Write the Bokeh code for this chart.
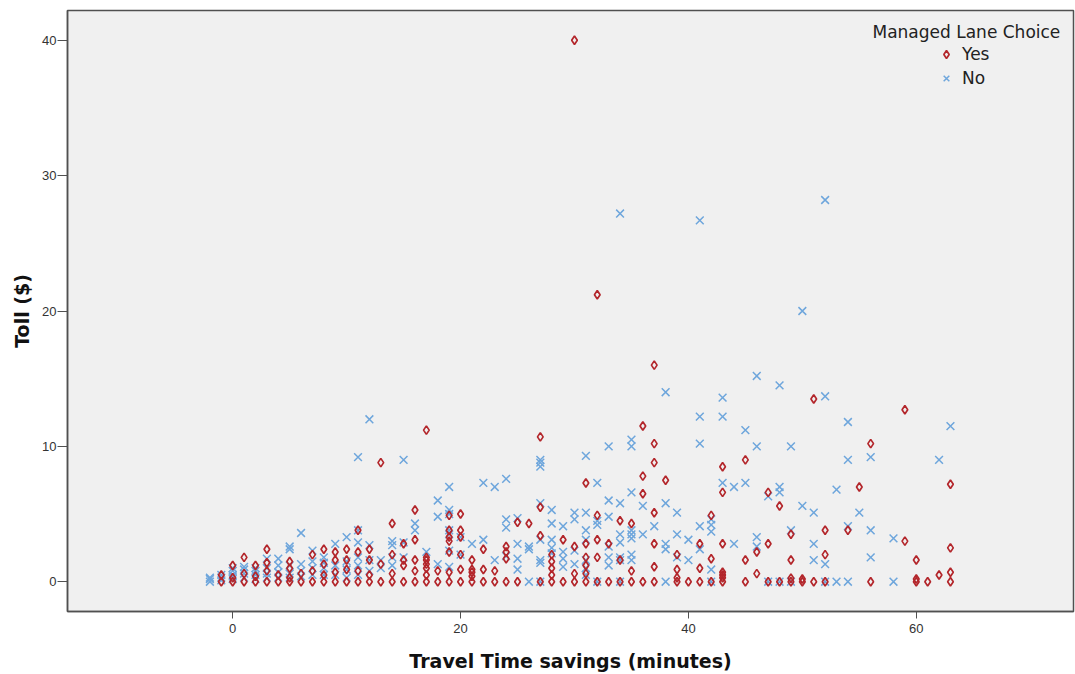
from bokeh.plotting import figure
from bokeh.models import Range1d, Legend, LegendItem, Label, FixedTicker
from bokeh.embed import file_html
from bokeh.resources import INLINE

# ---- data: Managed Lane Choice = Yes (red diamonds) ----
yes_x = [30, 32, 37, 17, 13, 27, 59, 51, 56, 36, 37, 37, 36, 38, 36, 37, 43, 45, 43, 47,
         48, 55, 42, 31, 63, 16, 20, 32, 27,
         -1, -1, 0, 0, 0, 1, 1, 1, 2, 2, 2, 3, 3, 3, 3, 4, 4, 5, 5, 5, 5, 6, 6,
         7, 7, 7, 8, 8, 8, 8, 9, 9, 9, 9, 10, 10, 10, 10, 11, 11, 11, 11,
         12, 12, 12, 12, 13, 13, 14, 14, 14, 14, 15, 15, 15, 15, 16, 16, 16, 16,
         17, 17, 17, 17, 17, 17, 18, 18, 19, 19, 19, 19, 19, 19, 19,
         20, 20, 20, 20, 20, 21, 21, 21, 21, 21, 22, 22, 22, 23, 23,
         24, 24, 24, 24, 25, 25, 26, 27, 27, 28, 28, 28, 28, 28, 29, 29,
         30, 30, 30, 31, 31, 31, 31, 31, 32, 32, 32, 33, 33, 34, 34, 34,
         35, 35, 35, 36, 37, 37, 37, 39, 39, 39, 39, 40, 41, 41, 41, 42, 42,
         43, 43, 43, 43, 43, 45, 45, 46, 46, 47, 47, 48, 49, 49, 49, 49, 50, 50,
         51, 52, 52, 52, 54, 56, 59, 60, 60, 60, 61, 62, 63, 63, 63]
yes_y = [40.0, 21.2, 16.0, 11.2, 8.8, 10.7, 12.7, 13.5, 10.2, 11.5, 10.2, 8.8, 7.8, 7.5, 6.5, 5.1, 8.5, 9.0, 6.6, 6.6,
         5.6, 7.0, 4.9, 7.3, 7.2, 5.3, 5.0, 4.9, 5.5,
         0, 0.5, 0, 0.3, 1.2, 0, 0.6, 1.8, 0, 0.4, 1.2, 0, 0.8, 1.4, 2.4, 0, 0.5, 0, 0.3, 1.0, 1.5, 0, 0.6,
         0, 0.8, 2.0, 0, 0.5, 1.3, 2.4, 0, 0.7, 1.6, 2.2, 0, 0.9, 1.6, 2.4, 0, 0.8, 2.2, 3.8,
         0, 0.5, 1.6, 2.4, 0, 1.3, 0, 0.6, 2.0, 4.3, 0, 1.2, 1.6, 2.8, 0, 0.8, 1.6, 3.1,
         0, 0.5, 1.0, 1.3, 1.6, 1.8, 0, 0.8, 0, 0.7, 2.2, 3.0, 3.3, 3.8, 4.9,
         0, 0.9, 2.0, 3.3, 3.8, 0, 0.4, 0.7, 0.9, 1.6, 0, 0.9, 2.4, 0, 0.8,
         0, 1.7, 2.2, 2.6, 0, 4.4, 4.3, 0, 3.4, 0, 0.5, 1.0, 1.5, 2.0, 0, 3.1,
         0, 0.6, 2.6, 0, 0.6, 1.2, 1.8, 2.8, 0, 1.8, 3.1, 0, 2.8, 0, 1.6, 4.5,
         0, 0.8, 4.3, 0, 0, 1.1, 2.8, 0, 0.3, 0.9, 2.0, 0, 0, 1.0, 2.8, 0, 1.7,
         0, 0.3, 0.5, 0.7, 2.8, 0, 1.6, 0.6, 2.2, 0, 2.8, 0, 0, 0.25, 1.6, 3.5, 0, 0.2,
         0, 0, 2.0, 3.8, 3.8, 0, 3.0, 0, 0.2, 1.6, 0, 0.5, 0, 0.7, 2.5]

# ---- data: Managed Lane Choice = No (blue crosses) ----
no_x = [34, 41, 52, 50, 12, 11, 15, 62, 63, 46, 48, 52, 38, 43, 41, 43, 45, 54, 41, 46,
        49, 33, 35, 35, 54, 56, 43, 44, 45, 48, 48, 47, 53, 35, 33, 34, 36, 38, 39, 50,
        51, 55, 32, 27, 27, 27, 31, 22, 23, 24, 19, 18, 19, 19, 18, 27, 28, 30, 31, 25,
        -2, -2, -2, -1, -1, -1, 0, 0, 0, 0, 0, 1, 1, 1, 1, 2, 2, 2, 2, 3, 3, 3, 3,
        4, 4, 4, 4, 5, 5, 5, 5, 5, 6, 6, 6, 6, 7, 7, 7, 7, 8, 8, 8, 8, 9, 9, 9,
        10, 10, 10, 10, 11, 11, 11, 11, 11, 12, 12, 12, 13, 13, 14, 14, 14, 14, 15, 15,
        16, 16, 17, 18, 19, 19, 19, 19, 20, 20, 21, 22, 23, 24, 24, 24, 25, 25, 25,
        26, 26, 26, 27, 27, 27, 27, 28, 28, 28, 28, 29, 29, 29, 29, 30, 30, 30,
        31, 31, 31, 31, 31, 32, 32, 32, 33, 33, 33, 33, 34, 34, 34, 34, 34,
        35, 35, 35, 35, 35, 36, 37, 38, 38, 38, 39, 39, 40, 40, 41, 41,
        42, 42, 42, 42, 42, 44, 46, 46, 47, 48, 49, 49, 51, 51, 52, 52, 53, 54, 54,
        56, 56, 58, 58]
no_y = [27.2, 26.7, 28.2, 20.0, 12.0, 9.2, 9.0, 9.0, 11.5, 15.2, 14.5, 13.7, 14.0, 13.6, 12.2, 12.2, 11.2, 11.8, 10.2, 10.0,
        10.0, 10.0, 10.5, 10.0, 9.0, 9.2, 7.3, 7.0, 7.3, 7.0, 6.6, 6.3, 6.8, 6.6, 6.0, 5.8, 5.6, 5.8, 5.1, 5.6,
        5.1, 5.1, 7.3, 9.0, 8.8, 8.5, 9.3, 7.3, 7.0, 7.6, 7.0, 6.0, 5.3, 5.0, 4.8, 5.8, 5.3, 5.1, 5.1, 4.7,
        0, 0.2, 0.3, 0.1, 0.3, 0.5, 0.2, 0.4, 0.5, 0.8, 1.0, 0.3, 0.6, 0.9, 1.1, 0.2, 0.5, 0.8, 1.0, 0.3, 0.6, 1.0, 1.7,
        0.3, 0.7, 1.2, 1.7, 0.3, 0.6, 1.2, 2.4, 2.6, 0.4, 0.8, 1.3, 3.6, 0.5, 1.0, 1.5, 2.3, 0.5, 1.0, 1.4, 1.8, 0.5, 1.2, 2.8,
        0.3, 0.9, 1.5, 3.3, 0.5, 1.2, 1.8, 2.9, 3.8, 0.8, 1.6, 2.7, 1.0, 1.6, 1.2, 1.8, 2.7, 3.0, 1.8, 2.9,
        3.8, 4.3, 2.2, 1.3, 1.1, 2.3, 3.5, 3.8, 2.0, 3.3, 2.8, 3.1, 1.6, 1.9, 4.0, 4.6, 0.9, 1.7, 2.8,
        0, 2.4, 2.6, 0, 1.4, 1.6, 3.1, 2.1, 2.5, 3.1, 4.3, 1.1, 1.7, 2.2, 4.1, 1.3, 2.3, 4.6,
        0.5, 1.0, 1.6, 3.1, 3.8, 0, 4.2, 4.5, 1.2, 1.8, 2.6, 4.8, 0, 1.6, 1.8, 2.9, 3.5,
        1.6, 2.0, 3.2, 3.5, 3.8, 3.5, 4.1, 0, 2.4, 2.8, 1.8, 3.5, 1.6, 3.1, 2.4, 4.1,
        0, 0.9, 3.7, 4.2, 4.6, 2.8, 2.6, 3.3, 0, 0, 0, 3.8, 1.6, 2.8, 0, 1.3, 0, 0, 4.1,
        1.8, 3.8, 0, 3.2]

x_ticks = [0, 20, 40, 60]
y_ticks = [0, 10, 20, 30, 40]
x_title = "Travel Time savings (minutes)"
y_title = "Toll ($)"
legend_title = "Managed Lane Choice"
labels = ["Yes", "No"]

RED = "#b3262b"
BLUE = "#6ea6dc"
AX = "#505050"

p = figure(width=1075, height=674, output_backend="svg", toolbar_location=None,
           x_range=Range1d(-14.5, 73.8), y_range=Range1d(-2.2, 42.2),
           min_border_left=67, min_border_right=2, min_border_top=10, min_border_bottom=62)
p.background_fill_color = "#f0f0f0"
p.border_fill_color = "white"
p.outline_line_color = AX
p.outline_line_width = 1.5
p.grid.visible = False

r_no = p.scatter(no_x, no_y, marker="x", size=11, line_color=BLUE, line_width=1.5)
r_yes = p.scatter(yes_x, yes_y, marker="diamond", size=8.5, fill_color=None,
                  line_color=RED, line_width=1.7)

p.xaxis.ticker = FixedTicker(ticks=x_ticks)
p.yaxis.ticker = FixedTicker(ticks=y_ticks)
p.xaxis.axis_label = x_title
p.yaxis.axis_label = y_title
for ax in (p.xaxis, p.yaxis):
    ax.axis_line_color = AX
    ax.axis_line_width = 1.5
    ax.major_tick_line_color = AX
    ax.major_tick_in = 0
    ax.minor_tick_line_color = None
    ax.major_label_text_font = "Liberation Sans"
    ax.major_label_text_font_size = "13px"
    ax.major_label_text_color = "#333333"
    ax.axis_label_text_font = "DejaVu Sans"
    ax.axis_label_text_font_style = "bold"
    ax.axis_label_text_font_size = "19px"
    ax.axis_label_text_color = "#111111"
p.xaxis.major_tick_out = 7
p.xaxis.major_label_standoff = 5
p.xaxis.axis_label_standoff = 14
p.yaxis.major_tick_out = 10
p.yaxis.major_label_standoff = 1
p.yaxis.axis_label_standoff = 6

legend = Legend(items=[LegendItem(label=labels[0], renderers=[r_yes]),
                       LegendItem(label=labels[1], renderers=[r_no])],
                location=(869, 523), border_line_color=None, background_fill_alpha=0,
                padding=0, margin=0, spacing=4, glyph_width=20, glyph_height=20,
                label_height=20, label_standoff=6, label_text_font="DejaVu Sans",
                label_text_font_size="17px", label_text_color="#222222")
p.add_layout(legend)
p.add_layout(Label(x=64.4, y=40.6, text=legend_title, text_align="center",
                   text_baseline="middle", text_font="DejaVu Sans",
                   text_font_size="17px", text_color="#222222"))

open("out.html", "w").write(file_html(p, INLINE))
